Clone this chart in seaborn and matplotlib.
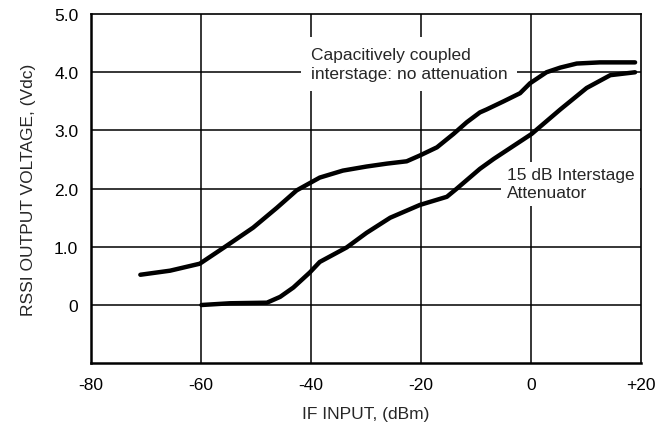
import matplotlib
matplotlib.use("Agg")
import matplotlib.pyplot as plt
import seaborn as sns
import pandas as pd

# --- data ---
x_coupled = [-71, -65.6, -60.2, -55.3, -50.5, -46.2, -42.6, -38.4, -34.2, -29.9,
             -26.2, -22.6, -20.2, -17.1, -14.1, -11.7, -9.3, -8.1, -5.0, -2.0,
             -0.2, 2.8, 5.3, 8.3, 12.5, 18.9]
y_coupled = [0.52, 0.59, 0.71, 1.02, 1.33, 1.67, 1.97, 2.19, 2.31, 2.38,
             2.43, 2.47, 2.57, 2.71, 2.94, 3.14, 3.31, 3.36, 3.50, 3.64,
             3.81, 4.00, 4.08, 4.15, 4.17, 4.17]

x_atten = [-59.9, -54.7, -48.0, -45.6, -43.2, -40.2, -38.4, -33.5, -29.9, -25.6,
           -20.2, -15.3, -13.5, -9.3, -6.8, 0.1, 5.3, 10.1, 14.4, 18.9]
y_atten = [0.0, 0.03, 0.04, 0.14, 0.30, 0.56, 0.74, 0.99, 1.24, 1.50,
           1.72, 1.86, 2.0, 2.34, 2.51, 2.94, 3.36, 3.73, 3.95, 4.0]

x_ticks = [-80, -60, -40, -20, 0, 20]
x_tick_labels = ["-80", "-60", "-40", "-20", "0", "+20"]
y_ticks = [0, 1, 2, 3, 4, 5]
y_tick_labels = ["0", "1.0", "2.0", "3.0", "4.0", "5.0"]

label_coupled = "Capacitively coupled\ninterstage: no attenuation"
label_atten = "15 dB Interstage\nAttenuator"

sns.set_style("white")
plt.rcParams["font.family"] = ["Liberation Sans", "DejaVu Sans"]

fig = plt.figure(figsize=(6.63, 4.31), dpi=100)
ax = fig.add_axes([0.137, 0.155, 0.830, 0.810])

df1 = pd.DataFrame({"x": x_coupled, "y": y_coupled})
df2 = pd.DataFrame({"x": x_atten, "y": y_atten})
sns.lineplot(data=df1, x="x", y="y", ax=ax, color="black", linewidth=3.2,
             sort=False, zorder=2, solid_capstyle="round", solid_joinstyle="round")
sns.lineplot(data=df2, x="x", y="y", ax=ax, color="black", linewidth=3.2,
             sort=False, zorder=2, solid_capstyle="round", solid_joinstyle="round")

ax.set_xlim(-80, 20)
ax.set_ylim(-1, 5)
ax.set_xticks(x_ticks)
ax.set_xticklabels(x_tick_labels)
ax.set_yticks(y_ticks)
ax.set_yticklabels(y_tick_labels)
ax.tick_params(axis="both", length=0, labelsize=12.5, colors="black")
ax.tick_params(axis="x", pad=10)
ax.tick_params(axis="y", pad=9)

# grid lines
for yv in [0, 1, 2, 3, 4]:
    ax.axhline(yv, color="black", linewidth=1.1, zorder=0.5)
for xv in [-60, -40, -20, 0]:
    ax.axvline(xv, color="black", linewidth=1.1, zorder=0.5)

for side in ["left", "bottom"]:
    ax.spines[side].set_linewidth(1.8)
    ax.spines[side].set_color("black")
for side in ["top", "right"]:
    ax.spines[side].set_linewidth(1.2)
    ax.spines[side].set_color("black")
for s in ax.spines.values():
    s.set_zorder(3)

ax.text(-40.0, 4.44, label_coupled, ha="left", va="top", fontsize=12.5,
        linespacing=1.4, zorder=1,
        bbox=dict(facecolor="white", edgecolor="none", pad=7))
ax.text(-4.4, 2.37, label_atten, ha="left", va="top", fontsize=12.5,
        linespacing=1.25, zorder=1,
        bbox=dict(facecolor="white", edgecolor="none", pad=4))

ax.set_xlabel("IF INPUT, (dBm)", fontsize=12.5, labelpad=10)
ax.set_ylabel("RSSI OUTPUT VOLTAGE, (Vdc)", fontsize=12.5, labelpad=13)

fig.savefig("out.png", dpi=100)
